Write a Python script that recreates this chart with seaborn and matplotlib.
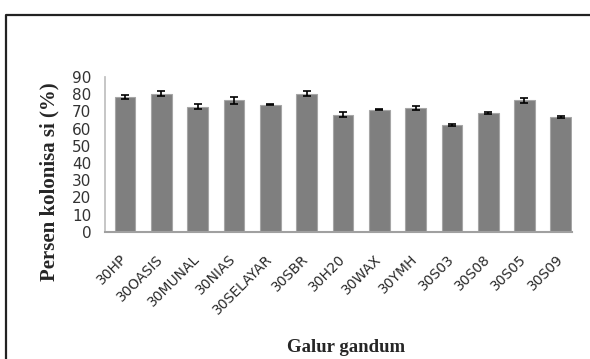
import numpy as np
import pandas as pd
import matplotlib
matplotlib.use('Agg')
import matplotlib.pyplot as plt
import seaborn as sns
from matplotlib.lines import Line2D

galur = ['30HP', '30OASIS', '30MUNAL', '30NIAS', '30SELAYAR', '30SBR', '30H20',
         '30WAX', '30YMH', '30S03', '30S08', '30S05', '30S09']
kolonisasi = [78.3, 80.3, 72.7, 76.4, 73.9, 80.3, 68.1, 71.0, 72.1, 62.1, 69.2, 76.4, 66.9]
galat = [1.0, 1.5, 1.5, 2.0, 0.5, 1.5, 1.5, 0.5, 1.2, 0.5, 0.6, 1.5, 0.6]

df = pd.DataFrame({'galur': galur, 'persen': kolonisasi, 'se': galat})

sns.set_theme(style='white')
plt.rcParams['font.family'] = ['DejaVu Sans']

fig = plt.figure(figsize=(5.9, 3.59), dpi=100)
ax = fig.add_axes([0.178, 0.354, 0.791, 0.432])

sns.barplot(data=df, x='galur', y='persen', color='#7f7f7f', width=0.57,
            edgecolor='#a6a6a6', linewidth=0.8, saturation=1, ax=ax)
ax.errorbar(np.arange(len(df)), df['persen'], yerr=df['se'], fmt='none',
            ecolor='black', elinewidth=1.2, capsize=3, capthick=1.2)

ax.set_ylim(0, 90)
ax.set_xlim(-0.55, 12.3)
ax.set_yticks(range(0, 91, 10))
ax.tick_params(axis='y', length=0, pad=10, labelsize=11, labelcolor='#333333')
ax.tick_params(axis='x', length=0, pad=18, labelsize=10, labelcolor='#2a2a2a')
plt.setp(ax.get_xticklabels(), rotation=45, ha='right', va='center',
         rotation_mode='anchor')

for side in ['top', 'right']:
    ax.spines[side].set_visible(False)
ax.spines['left'].set_color('#bfbfbf')
ax.spines['bottom'].set_color('#a0a0a0')
ax.spines['bottom'].set_linewidth(1.5)

ax.set_xlabel('Galur gandum', fontsize=13.5, fontweight='bold',
              family='Liberation Serif')
ax.xaxis.set_label_coords(0.516, -0.69)
ax.set_ylabel('Persen kolonisa si (%)', fontsize=15, fontweight='bold',
              family='Liberation Serif')
ax.yaxis.set_label_coords(-0.097, 0.326)

# frame of the original picture (left and top edges only)
fig.add_artist(Line2D([0.011, 0.011, 1.0], [0.0, 0.958, 0.958],
                      transform=fig.transFigure, color='#222222', linewidth=1.6))

fig.savefig('out.png', dpi=100)
